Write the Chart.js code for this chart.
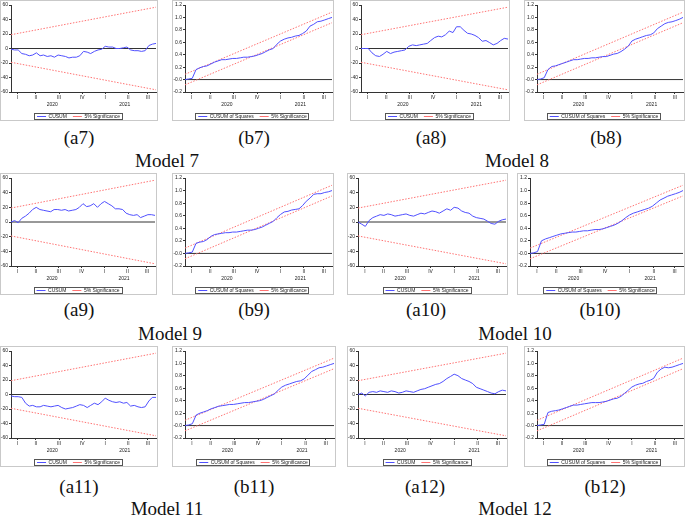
<!DOCTYPE html>
<html>
<head>
<meta charset="utf-8">
<script src="https://cdn.jsdelivr.net/npm/chart.js@4.4.1/dist/chart.umd.min.js"></script>
<style>
  html,body{margin:0;padding:0;background:#fff;}
  #page{position:relative;width:685px;height:515px;overflow:hidden;}
  .pnl{position:absolute;border:1px solid #c9c9c9;box-sizing:border-box;background:#fff;}
  .pnl canvas{display:block;}
  .cap{position:absolute;font-family:"Liberation Serif","Times New Roman",serif;font-size:19px;color:#111;
       transform:translate(-50%,-50%);white-space:nowrap;line-height:1;}
</style>
</head>
<body>
<div id="page"></div>
<script>
// ── Data ──────────────────────────────────────────────────────────────────────
// x positions are in quarters since the start of 2020 (sample: mid-Feb 2020 .. Aug 2021)
const QX=[0.42,0.58,0.73,0.89,1.05,1.21,1.36,1.52,1.68,1.83,1.99,2.15,2.30,2.46,2.62,2.78,2.93,3.09,3.25,3.40,
          3.56,3.72,3.87,4.03,4.19,4.35,4.50,4.66,4.82,4.97,5.13,5.29,5.44,5.60,5.76,5.92,6.07,6.23,6.39,6.54,6.70];
const QTR_POS=[0.71,1.5,2.5,3.5,4.5,5.5,6.35];
const QTR_LBL=['I','II','III','IV','I','II','III'];
const YEAR_POS=[2.21,5.35];
const YEAR_LBL=['2020','2021'];
const BOUND_X=[0.42,6.70];
const CUSUM_UP=[19,57], CUSUM_LO=[-19,-57];
const SQ_UP=[0.085,1.085], SQ_LO=[-0.085,0.915];

const cusum7 =[-1,-2,-2,-7,-8,-10,-9,-6,-10,-9,-11,-10,-12,-9,-10,-11,-13,-12,-12,-10,-4,-5,-7,-4,-2,-1,3,2,2,0,0,1,2,-2,-3,-3,-4,-3,4,6,7];
const cusum8 =[0,0,0,-6,-10,-11,-8,-4,-7,-5,-4,-3,-2,3,5,4,5,6,7,11,15,17,16,19,24,22,30,30,25,21,20,18,15,10,11,8,5,7,11,14,13];
const cusum9 =[0,2,-1,5,8,12,17,20,17,16,15,14,17,17,16,17,15,16,17,20,25,21,22,25,20,25,28,25,22,18,18,17,12,10,9,10,6,8,10,10,9];
const cusum10=[0,-3,-6,2,6,8,10,9,11,10,8,9,10,11,9,8,10,12,11,13,15,14,12,15,18,16,20,19,15,13,12,8,6,5,4,1,-2,-3,1,3,4];
const cusum11=[-2,-3,-3,-4,-12,-16,-15,-17,-17,-15,-16,-17,-16,-15,-18,-20,-19,-18,-16,-14,-15,-18,-15,-12,-14,-10,-5,-8,-10,-11,-10,-12,-11,-16,-15,-17,-18,-17,-9,-4,-4];
const cusum12=[0,2,-2,3,4,3,5,4,3,5,4,2,3,5,4,3,5,7,8,10,12,14,15,18,22,25,28,26,22,20,18,15,10,8,6,4,2,1,4,6,5];

const sq7 =[0,0.01,0.02,0.16,0.19,0.21,0.22,0.25,0.28,0.30,0.32,0.32,0.33,0.34,0.34,0.35,0.36,0.36,0.37,0.38,0.40,0.42,0.45,0.48,0.50,0.57,0.62,0.65,0.67,0.68,0.70,0.71,0.74,0.78,0.86,0.89,0.93,0.94,0.96,0.98,1.0];
const sq8 =[0,0.01,0.03,0.16,0.21,0.22,0.24,0.26,0.28,0.30,0.32,0.32,0.33,0.34,0.34,0.35,0.35,0.36,0.37,0.37,0.39,0.41,0.42,0.45,0.49,0.54,0.62,0.65,0.67,0.69,0.71,0.72,0.75,0.82,0.86,0.90,0.92,0.93,0.95,0.97,1.0];
const sq9 =[0,0.01,0.02,0.16,0.18,0.19,0.22,0.27,0.30,0.31,0.32,0.33,0.33,0.34,0.34,0.35,0.36,0.37,0.37,0.38,0.40,0.42,0.45,0.48,0.51,0.57,0.62,0.66,0.67,0.69,0.70,0.71,0.76,0.83,0.88,0.94,0.95,0.95,0.97,0.98,1.0];
const sq10=[0,0.01,0.03,0.20,0.23,0.25,0.27,0.29,0.31,0.32,0.33,0.34,0.34,0.35,0.36,0.36,0.37,0.38,0.38,0.39,0.41,0.43,0.45,0.48,0.52,0.57,0.61,0.64,0.66,0.68,0.70,0.72,0.75,0.80,0.85,0.88,0.91,0.93,0.95,0.97,1.0];
const sq11=[0,0.01,0.03,0.17,0.20,0.22,0.24,0.27,0.29,0.31,0.32,0.33,0.34,0.34,0.35,0.36,0.37,0.37,0.38,0.39,0.40,0.42,0.45,0.48,0.51,0.57,0.62,0.65,0.67,0.69,0.71,0.72,0.75,0.81,0.87,0.90,0.93,0.94,0.96,0.98,1.0];
const sq12=[0,0.01,0.02,0.21,0.23,0.24,0.25,0.27,0.29,0.31,0.33,0.33,0.34,0.35,0.36,0.37,0.37,0.37,0.38,0.39,0.41,0.43,0.44,0.47,0.52,0.57,0.62,0.65,0.67,0.68,0.71,0.73,0.76,0.86,0.91,0.94,0.93,0.94,0.96,0.98,1.0];

// ── Layout ────────────────────────────────────────────────────────────────────
// [kind, series, left, top, width, height]
const PANELS=[
  ['cusum',cusum7,    0,  0,158,121], ['sq',sq7,  172,  0,162,121],
  ['cusum',cusum8,  350,  0,160,121], ['sq',sq8,  524,  0,161,121],
  ['cusum',cusum9,    0,173,157,122], ['sq',sq9,  172,173,162,122],
  ['cusum',cusum10, 347,173,161,122], ['sq',sq10, 517,173,168,122],
  ['cusum',cusum11,   0,346,158,121], ['sq',sq11, 172,346,164,121],
  ['cusum',cusum12, 347,346,161,121], ['sq',sq12, 524,346,161,121]
];
const CAPS=[
  ['(a7)',79,137],['(b7)',254,137],['(a8)',431,137],['(b8)',606,137],['Model 7',167,160],['Model 8',517,160],
  ['(a9)',79,309],['(b9)',254,309],['(a10)',426,309],['(b10)',600,309],['Model 9',170,333],['Model 10',515,333],
  ['(a11)',79,486],['(b11)',254,486],['(a12)',425,486],['(b12)',605,486],['Model 11',167,508],['Model 12',515,508]
];

Chart.defaults.font.family='"Liberation Sans", Arial, sans-serif';
Chart.defaults.font.size=5;
Chart.defaults.color='#222';

const pts=ys=>ys.map((y,i)=>({x:QX[i],y}));
const seg=ys=>ys.map((y,i)=>({x:BOUND_X[i],y}));

// compact legend + the box EViews draws round it
const legendBox={id:'legendBox',
  beforeInit(chart){
    const lg=chart.legend; if(!lg) return;
    const f=lg.fit;
    lg.fit=function(){ f.call(this); this.height=12; };
  },
  afterDraw(chart){
    const hb=chart.legend&&chart.legend.legendHitBoxes; if(!hb||!hb.length) return;
    let l=Infinity,r=-Infinity;
    hb.forEach(b=>{l=Math.min(l,b.left);r=Math.max(r,b.left+b.width);});
    const cx=chart.ctx;
    cx.save();cx.strokeStyle='#555';cx.lineWidth=1;
    cx.strokeRect(Math.round(l-3)+0.5,Math.round(hb[0].top-1)+0.5,Math.round(r-l+5),Math.round(hb[0].height+1));
    cx.restore();
  }
};

function makePanel(p){
  const [kind,ys,left,top,w,h]=p;
  const div=document.createElement('div');
  div.className='pnl';
  div.style.cssText='left:'+left+'px;top:'+top+'px;width:'+w+'px;height:'+h+'px;';
  const cv=document.createElement('canvas');
  cv.width=w-2; cv.height=h-2;
  div.appendChild(cv);
  document.getElementById('page').appendChild(div);

  const isSq=kind==='sq';
  const up=isSq?SQ_UP:CUSUM_UP, lo=isSq?SQ_LO:CUSUM_LO;
  const redLine={borderColor:'#ff7373',borderWidth:1,borderDash:[1.5,1.5],pointRadius:0,fill:false};
  new Chart(cv.getContext('2d'),{
    type:'line',
    plugins:[legendBox],
    data:{datasets:[
      {label:'',data:seg([0,0]),borderColor:'#333',borderWidth:1,pointRadius:0,fill:false,order:3},
      {label:isSq?'CUSUM of Squares':'CUSUM',data:pts(ys),borderColor:'#5050ff',borderWidth:1,pointRadius:0,tension:0,fill:false,order:1},
      Object.assign({label:'5% Significance',data:seg(up)},redLine,{order:2}),
      Object.assign({label:'',data:seg(lo)},redLine,{order:2})
    ]},
    options:{
      responsive:false,animation:false,devicePixelRatio:1,
      layout:{padding:{left:0,right:1,top:2,bottom:0}},
      plugins:{
        tooltip:{enabled:false},
        legend:{position:'bottom',
          labels:{filter:it=>it.text!=='',usePointStyle:true,pointStyle:'line',pointStyleWidth:9,boxWidth:9,boxHeight:5,
                  padding:6,font:{size:5}}}
      },
      scales:{
        x:{type:'linear',min:BOUND_X[0],max:BOUND_X[1],weight:0,
           afterBuildTicks:s=>{s.ticks=QTR_POS.map(v=>({value:v}));},
           ticks:{autoSkip:false,maxRotation:0,padding:1,callback:(v,i)=>QTR_LBL[i]},
           grid:{drawOnChartArea:false,drawTicks:true,tickLength:2,color:'#333'},
           border:{display:true,color:'#333'}},
        yr:{type:'linear',position:'bottom',min:BOUND_X[0],max:BOUND_X[1],weight:1,
           afterBuildTicks:s=>{s.ticks=YEAR_POS.map(v=>({value:v}));},
           ticks:{autoSkip:false,maxRotation:0,padding:0,callback:(v,i)=>YEAR_LBL[i]},
           grid:{display:false,drawTicks:false,tickLength:0},border:{display:false}},
        y:{min:isSq?-0.2:-60,max:isSq?1.2:60,
           afterFit:s=>{s.width=isSq?12:10;},
           ticks:{stepSize:isSq?0.2:20,padding:1,callback:v=>isSq?v.toFixed(1):String(Math.round(v))},
           grid:{drawOnChartArea:false,drawTicks:true,tickLength:2,color:'#333'},
           border:{display:true,color:'#333'}}
      }
    }
  });
}

PANELS.forEach(makePanel);

CAPS.forEach(([t,x,y])=>{
  const d=document.createElement('div');
  d.className='cap'; d.textContent=t;
  d.style.left=x+'px'; d.style.top=y+'px';
  document.getElementById('page').appendChild(d);
});
</script>
</body>
</html>
